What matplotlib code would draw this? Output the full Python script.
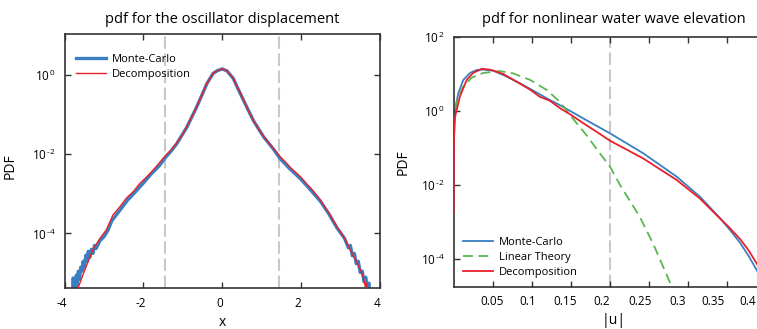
import numpy as np
import matplotlib
matplotlib.use("Agg")
import matplotlib.pyplot as plt
from matplotlib.ticker import NullLocator, FixedLocator
from matplotlib.transforms import ScaledTranslation

plt.rcParams['font.family'] = ['Open Sans', 'DejaVu Sans']
plt.rcParams['mathtext.fontset'] = 'custom'
plt.rcParams['mathtext.rm'] = 'Open Sans'
plt.rcParams['mathtext.it'] = 'Open Sans'

# ---------------- Left panel data (x, log10 PDF) ----------------
osc_mc_x = [-3.79, -3.78, -3.77, -3.74, -3.72, -3.70, -3.68, -3.65, -3.62, -3.59, -3.56, -3.53,
            -3.50, -3.46, -3.43, -3.40, -3.36, -3.32, -3.28, -3.24, -3.20, -3.10, -3.00, -2.90,
            -2.80, -2.60, -2.40, -2.20, -2.00, -1.80, -1.60, -1.45, -1.30, -1.16, -0.90, -0.65,
            -0.50, -0.39, -0.23, -0.12, 0.00, 0.12, 0.28, 0.40, 0.54, 0.79, 1.05, 1.30, 1.47,
            1.70, 1.98, 2.20, 2.49, 2.70, 2.91, 3.10, 3.20, 3.25, 3.30, 3.35, 3.40, 3.45, 3.50,
            3.55, 3.60, 3.64, 3.68, 3.72, 3.75]
osc_mc_log = [-5.6, -5.12, -5.6, -5.35, -5.40, -5.05, -5.30, -4.95, -5.15, -4.85, -4.95, -4.70,
              -4.85, -4.55, -4.70, -4.45, -4.60, -4.40, -4.50, -4.30, -4.38, -4.18, -4.08, -3.92,
              -3.68, -3.42, -3.16, -2.95, -2.73, -2.50, -2.30, -2.10, -1.93, -1.75, -1.33, -0.82,
              -0.48, -0.23, 0.03, 0.10, 0.14, 0.09, -0.10, -0.36, -0.65, -1.16, -1.57, -1.88, -2.12,
              -2.36, -2.62, -2.86, -3.19, -3.50, -3.86, -4.12, -4.36, -4.30, -4.56, -4.50, -4.76,
              -4.70, -4.98, -4.95, -5.22, -5.10, -5.40, -5.25, -5.6]

osc_dec_x = [-3.70, -3.66, -3.50, -3.28, -3.10, -2.94, -2.77, -2.60, -2.43, -2.25, -2.09, -1.90,
             -1.75, -1.60, -1.45, -1.30, -1.16, -1.02, -0.90, -0.78, -0.65, -0.50, -0.39, -0.23,
             -0.12, 0.00, 0.12, 0.28, 0.40, 0.54, 0.66, 0.79, 0.92, 1.05, 1.18, 1.30, 1.47, 1.60,
             1.75, 1.98, 2.15, 2.30, 2.49, 2.70, 2.91, 3.10, 3.25, 3.40, 3.51, 3.58, 3.63, 3.66, 3.70]
osc_dec_log = [-5.55, -5.38, -4.95, -4.41, -4.12, -3.91, -3.53, -3.33, -3.11, -2.94, -2.74, -2.56,
               -2.40, -2.23, -2.05, -1.90, -1.73, -1.53, -1.31, -1.08, -0.81, -0.48, -0.22, 0.03,
               0.10, 0.14, 0.10, -0.10, -0.35, -0.64, -0.92, -1.15, -1.37, -1.56, -1.72, -1.86,
               -2.07, -2.20, -2.36, -2.57, -2.76, -2.92, -3.16, -3.48, -3.83, -4.12, -4.42, -4.70,
               -4.92, -5.10, -5.34, -5.25, -5.5]

osc_threshold = [-1.45, 1.45]

# ---------------- Right panel data (|u|, log10 PDF) ----------------
wave_mc_u = [0.0, 0.0005, 0.0018, 0.006, 0.0124, 0.021, 0.0295, 0.038, 0.051, 0.068, 0.085,
             0.102, 0.123, 0.136, 0.166, 0.200, 0.2426, 0.2853, 0.315, 0.3407, 0.3535,
             0.3662, 0.377, 0.3876, 0.410]
wave_mc_log = [-1.60, -0.51, 0.03, 0.48, 0.84, 1.03, 1.11, 1.12, 1.09, 0.93, 0.75,
               0.55, 0.30, 0.16, -0.20, -0.60, -1.14, -1.77, -2.31, -2.89, -3.21,
               -3.55, -3.90, -4.29, -5.20]

wave_lin_u = [0.002, 0.004, 0.0124, 0.023, 0.038, 0.059, 0.076, 0.098, 0.119, 0.136, 0.149,
              0.170, 0.187, 0.200, 0.213, 0.238, 0.255, 0.2725, 0.285]
wave_lin_log = [0.05, 0.25, 0.66, 0.90, 1.03, 1.08, 1.02, 0.84, 0.57, 0.25, -0.11,
                -0.65, -1.14, -1.50, -2.00, -2.85, -3.57, -4.42, -5.05]

wave_dec_u = [0.0, 0.0005, 0.0018, 0.008, 0.0167, 0.025, 0.036, 0.0465, 0.0636, 0.0807,
              0.0977, 0.110, 0.123, 0.136, 0.150, 0.166, 0.183, 0.200, 0.2426,
              0.2853, 0.315, 0.3364, 0.3515, 0.3662, 0.377, 0.3876, 0.410]
wave_dec_log = [-2.75, -0.78, -0.16, 0.39, 0.84, 1.03, 1.14, 1.12, 1.00, 0.79,
                0.58, 0.39, 0.28, 0.08, -0.10, -0.33, -0.56, -0.80, -1.28,
                -1.86, -2.36, -2.81, -3.12, -3.45, -3.75, -4.11, -4.95]

wave_threshold = 0.2

# ---------------- Styling ----------------
BLUE = '#3a7fc1'
RED = '#e8202a'
GREEN = '#5bb553'
GRAY = '#c8c8c8'
SPINE = '#333333'

fig = plt.figure(figsize=(7.57, 3.29), dpi=100)
ax1 = fig.add_axes([0.0853, 0.1237, 0.4166, 0.773])
ax2 = fig.add_axes([0.5992, 0.1286, 0.4235, 0.759])


def logfmt(e):
    s = str(e).replace('-', '\u2010')
    return r'$\mathrm{10^{\,%s}}$' % s


def style(ax):
    for sp in ax.spines.values():
        sp.set_color(SPINE)
        sp.set_linewidth(1.2)
    ax.tick_params(direction='in', top=True, right=True, length=4, width=1.0,
                   color=SPINE, labelsize=8.5, pad=6)
    ax.yaxis.set_minor_locator(NullLocator())
    ax.xaxis.set_minor_locator(NullLocator())


def shift_labels(ax, offsets_px):
    for lab, dx in zip(ax.get_xticklabels(), offsets_px):
        lab.set_transform(lab.get_transform() +
                          ScaledTranslation(dx / 100.0, 0, fig.dpi_scale_trans))


# Left panel
ax1.set_yscale('log')
for xv in osc_threshold:
    ax1.axvline(xv, color=GRAY, lw=1.5, dashes=(6, 2.2), zorder=1)
ax1.plot(osc_mc_x, 10 ** np.array(osc_mc_log), color=BLUE, lw=2.4, label='Monte-Carlo', zorder=2)
ax1.plot(osc_dec_x, 10 ** np.array(osc_dec_log), color=RED, lw=1.0, label='Decomposition', zorder=3)
ax1.set_xlim(-4, 4)
ax1.set_ylim(10 ** -5.38, 10 ** 1.02)
style(ax1)
ax1.set_xticks([-4, -2, 0, 2, 4])
ax1.set_xticklabels(['-4', '-2', '0', '2', '4'])
shift_labels(ax1, [-3] * 5)
ax1.yaxis.set_major_locator(FixedLocator([1e-4, 1e-2, 1]))
ax1.set_yticklabels([logfmt(-4), logfmt(-2), logfmt(0)])
ax1.set_title('pdf for the oscillator displacement', fontsize=10.5, pad=8)
ax1.set_xlabel('x', fontsize=10)
ax1.xaxis.set_label_coords(0.5, -0.105)
ax1.set_ylabel('PDF', fontsize=10)
ax1.yaxis.set_label_coords(-0.15, 0.48)
ax1.legend(loc='upper left', bbox_to_anchor=(0.035, 0.92), frameon=False, fontsize=8,
           handlelength=2.7, handletextpad=0.55, labelspacing=0.35, borderpad=0, borderaxespad=0)

# Right panel
ax2.set_yscale('log')
ax2.axvline(wave_threshold, color=GRAY, lw=1.5, dashes=(6, 2.2), zorder=1)
ax2.plot(wave_mc_u, 10 ** np.array(wave_mc_log), color=BLUE, lw=1.3, label='Monte-Carlo', zorder=2)
ax2.plot(wave_lin_u, 10 ** np.array(wave_lin_log), color=GREEN, lw=1.3, dashes=(5.5, 3),
         label='Linear Theory', zorder=2)
ax2.plot(wave_dec_u, 10 ** np.array(wave_dec_log), color=RED, lw=1.3, label='Decomposition', zorder=3)
ax2.set_xlim(0, 0.41)
ax2.set_ylim(10 ** -4.74, 1e2)
style(ax2)
ax2.set_xticks([0.05, 0.1, 0.15, 0.2, 0.25, 0.3, 0.35, 0.4])
ax2.set_xticklabels(['0.05', '0.1', '0.15', '0.2', '0.25', '0.3', '0.35', '0.4'])
shift_labels(ax2, [-1, -4.5, -5.9, -8.3, -9.1, -10.5, -14, -18.5])
ax2.yaxis.set_major_locator(FixedLocator([1e-4, 1e-2, 1, 1e2]))
ax2.set_yticklabels([logfmt(-4), logfmt(-2), logfmt(0), logfmt(2)])
ax2.set_title('pdf for nonlinear water wave elevation', fontsize=10.5, pad=10)
ax2.set_xlabel('|u|', fontsize=10)
ax2.xaxis.set_label_coords(0.5, -0.105)
ax2.set_ylabel('PDF', fontsize=10)
ax2.yaxis.set_label_coords(-0.135, 0.5)
ax2.legend(loc='lower left', bbox_to_anchor=(0.03, 0.035), frameon=False, fontsize=8,
           handlelength=2.7, handletextpad=0.55, labelspacing=0.35, borderpad=0, borderaxespad=0)

fig.savefig('out.png', dpi=100)
